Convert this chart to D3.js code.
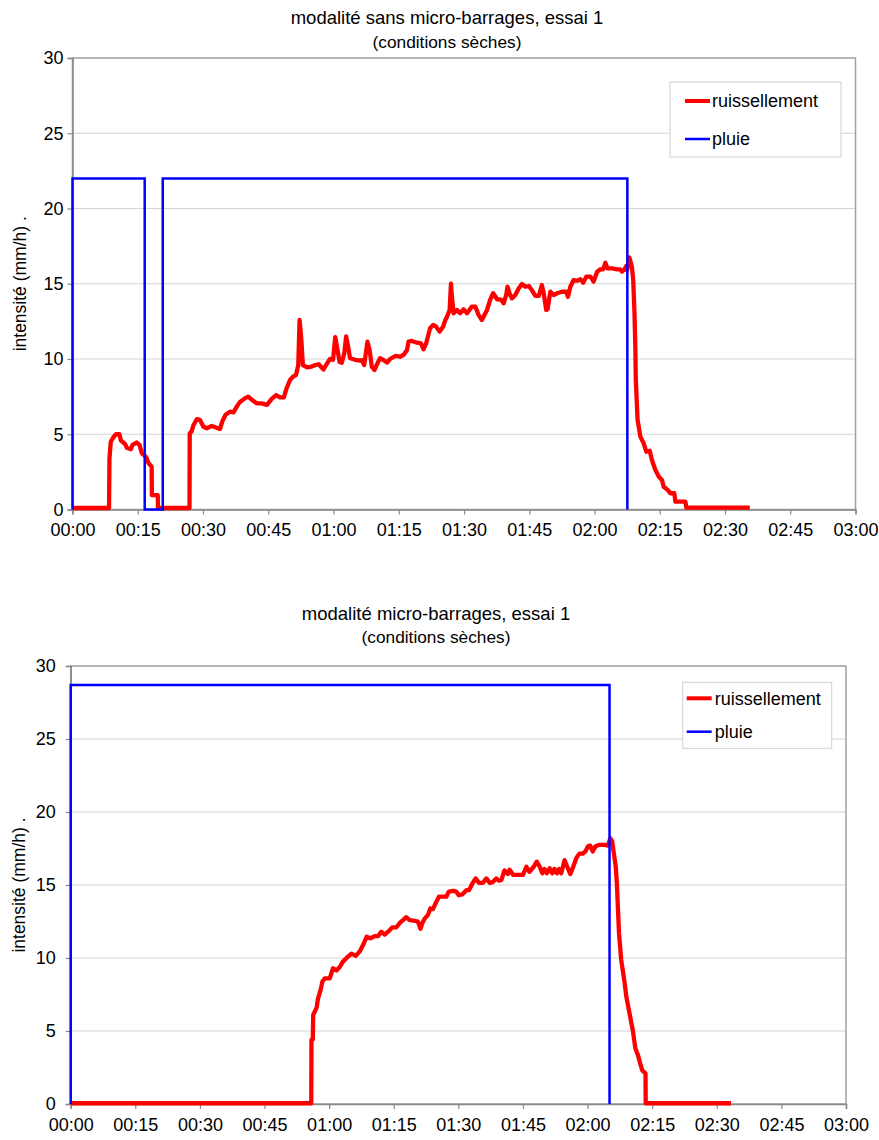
<!DOCTYPE html>
<html>
<head>
<meta charset="utf-8">
<script src="https://cdn.jsdelivr.net/npm/d3@7"></script>
<style>
  body { margin: 0; background: #fff; }
  text { font-family: "Liberation Sans", Arial, sans-serif; fill: #000; }
</style>
</head>
<body>
<div id="chart"></div>
<script>
var svgWidth = 879;
var svgHeight = 1140;

// x axis: minutes since start, labelled hh:mm
var timeTicks = [0, 15, 30, 45, 60, 75, 90, 105, 120, 135, 150, 165, 180];
var timeLabels = ["00:00", "00:15", "00:30", "00:45", "01:00", "01:15", "01:30",
                  "01:45", "02:00", "02:15", "02:30", "02:45", "03:00"];
var yTicks = [0, 5, 10, 15, 20, 25, 30];
var seriesNames = ["ruissellement", "pluie"];

// essai 1, sans micro-barrages : [minutes, mm/h]
var runoff1 = [
  [0, 0.1], [8.4, 0.1], [8.5, 3.4], [8.8, 4.5], [9.4, 4.8], [10.0, 5.0], [10.8, 5.0],
  [11.1, 4.6], [12.1, 4.35], [12.5, 4.1], [13.4, 4.0], [13.8, 4.3], [14.8, 4.45],
  [15.4, 4.3], [15.9, 3.75], [16.9, 3.5], [17.45, 3.1], [18.2, 2.85], [18.25, 0.95],
  [19.6, 0.95], [19.65, 0.1], [26.9, 0.1], [26.95, 5.05], [27.4, 5.2], [27.8, 5.6],
  [28.6, 6.0], [29.3, 5.95], [30.1, 5.5], [30.9, 5.4], [32.0, 5.55], [33.9, 5.35],
  [34.5, 5.9], [35.2, 6.3], [36.2, 6.5], [37.0, 6.45], [37.8, 6.85], [38.5, 7.15],
  [39.7, 7.4], [40.4, 7.5], [41.2, 7.3], [42.4, 7.05], [43.5, 7.05], [44.7, 6.95],
  [45.8, 7.35], [46.8, 7.6], [47.7, 7.45], [48.6, 7.45], [49.2, 8.05], [50.0, 8.6],
  [50.8, 8.85], [51.4, 8.95], [51.9, 9.6], [52.2, 12.6], [52.6, 11.3], [52.96, 9.6],
  [53.9, 9.45], [55.0, 9.5], [55.8, 9.6], [56.6, 9.65], [57.7, 9.3], [58.5, 9.7],
  [59.2, 10.0], [59.9, 9.95], [60.4, 11.45], [60.8, 10.8], [61.4, 9.8], [61.9, 9.75],
  [62.5, 10.4], [62.9, 11.5], [63.5, 10.6], [63.8, 10.05], [65.0, 9.95], [66.1, 9.9],
  [66.5, 9.93], [67.06, 9.6], [67.8, 11.15], [68.3, 10.6], [68.8, 9.49], [69.4, 9.27],
  [70.1, 9.71], [70.7, 10.05], [71.5, 9.93], [72.3, 9.76], [73.0, 10.0], [74.2, 10.2],
  [75.3, 10.15], [76.1, 10.27], [76.9, 10.6], [77.25, 11.15], [78.0, 11.2], [79.2, 11.08],
  [80.1, 11.04], [80.7, 10.64], [81.3, 11.04], [82.2, 12.04], [82.9, 12.26], [83.6, 12.15],
  [84.4, 11.82], [85.2, 12.15], [85.7, 12.59], [86.1, 12.8], [86.7, 13.26], [87.0, 15.0],
  [87.2, 14.2], [87.6, 13.04], [88.4, 13.26], [89.1, 13.04], [89.9, 13.3], [90.7, 13.04],
  [91.8, 13.48], [92.6, 13.48], [93.35, 12.93], [94.1, 12.59], [94.9, 13.04], [95.3, 13.26],
  [96.0, 13.92], [96.7, 14.37], [97.6, 13.97], [98.5, 13.95], [99.1, 13.7], [99.7, 14.25],
  [100.0, 14.8], [100.5, 14.35], [101.0, 14.03], [101.8, 14.25], [102.6, 14.7], [103.3, 14.98],
  [104.1, 14.8], [104.9, 14.85], [105.6, 14.58], [106.4, 14.19], [107.2, 14.19], [107.9, 14.92],
  [108.3, 14.4], [108.9, 13.26], [109.2, 13.3], [109.85, 14.47], [110.6, 14.25], [111.4, 14.37],
  [112.5, 14.47], [113.5, 14.47], [113.9, 14.14], [114.45, 14.8], [115.2, 15.25], [116.0, 15.2],
  [116.75, 15.3], [117.4, 15.07], [118.1, 15.47], [119.05, 15.47], [119.8, 15.14], [120.6, 15.8],
  [121.35, 15.96], [122.0, 15.96], [122.5, 16.4], [123.0, 16.02], [124.0, 16.02], [125.2, 15.96],
  [125.95, 15.96], [126.3, 15.8], [126.9, 15.96], [127.3, 16.18], [127.5, 15.9], [128.0, 16.75],
  [128.6, 16.13], [128.9, 15.25], [129.2, 13.0], [129.4, 10.6], [129.5, 8.6], [129.9, 5.95],
  [130.55, 4.84], [131.3, 4.4], [131.9, 3.84], [132.7, 3.9], [133.2, 3.29], [134.0, 2.62],
  [134.8, 2.18], [135.5, 1.96], [135.9, 1.51], [136.8, 1.3], [137.45, 1.08], [138.35, 1.08],
  [138.6, 0.52], [140.9, 0.52], [141.1, 0.12], [155.7, 0.12]
];
var rain1 = [
  [0, 0], [0, 22], [16.6, 22], [16.6, 0], [20.75, 0], [20.75, 22], [127.55, 22], [127.55, 0]
];

// essai 1, micro-barrages
var runoff2 = [
  [0, 0.05], [55.85, 0.05], [55.9, 4.4], [56.2, 4.4], [56.3, 6.1], [57.1, 6.6], [57.4, 7.2],
  [58.0, 7.8], [58.45, 8.4], [59.0, 8.6], [60.15, 8.6], [60.9, 9.3], [61.7, 9.15], [62.5, 9.4],
  [63.2, 9.75], [64.4, 10.1], [65.2, 10.3], [66.2, 10.15], [67.1, 10.45], [67.9, 10.9],
  [68.7, 11.45], [69.6, 11.35], [70.6, 11.5], [71.35, 11.5], [72.1, 11.8], [72.9, 11.6],
  [73.7, 11.8], [74.7, 12.1], [75.6, 12.1], [76.4, 12.4], [77.15, 12.6], [77.9, 12.8],
  [78.7, 12.6], [79.9, 12.55], [80.6, 12.5], [81.2, 12.0], [81.65, 12.4], [82.2, 12.7],
  [82.95, 12.95], [83.5, 13.4], [84.1, 13.35], [84.9, 13.85], [85.5, 14.2], [86.4, 14.2],
  [87.2, 14.2], [87.8, 14.55], [88.75, 14.6], [89.5, 14.55], [90.1, 14.3], [90.9, 14.35],
  [91.9, 14.65], [92.5, 14.65], [93.25, 15.1], [94.0, 15.45], [94.8, 15.15], [95.7, 15.15],
  [96.5, 15.45], [97.3, 15.15], [98.0, 15.2], [98.8, 15.45], [99.4, 15.3], [100.0, 15.35],
  [100.7, 16.0], [101.5, 15.75], [101.9, 16.05], [102.7, 15.7], [103.8, 15.7], [105.0, 15.7],
  [105.8, 16.25], [106.5, 15.9], [107.5, 16.25], [108.2, 16.6], [108.9, 16.25], [109.5, 15.8],
  [110.0, 16.1], [110.55, 15.8], [111.2, 16.15], [111.8, 15.8], [112.3, 16.1], [112.9, 15.8],
  [113.4, 16.1], [113.9, 15.8], [114.65, 16.7], [115.2, 16.3], [116.0, 15.75], [116.6, 16.2],
  [117.4, 16.85], [118.1, 17.15], [118.9, 17.15], [119.5, 17.3], [120.1, 17.65], [120.6, 17.7],
  [121.2, 17.3], [121.85, 17.65], [122.8, 17.75], [123.9, 17.75], [124.7, 17.7], [125.3, 18.2],
  [125.7, 18.0], [126.55, 16.25], [126.8, 15.1], [127.3, 11.7], [127.8, 9.9], [128.6, 8.3],
  [129.0, 7.35], [129.75, 6.2], [130.5, 5.05], [131.1, 3.8], [131.7, 3.35], [132.2, 2.8],
  [132.7, 2.3], [133.45, 2.1], [133.5, 0.05], [153.3, 0.05]
];
var rain2 = [
  [0, 0], [0, 28.7], [125.1, 28.7], [125.1, 0]
];

var charts = [
  {
    title: "modalité sans micro-barrages, essai 1",
    subtitle: "(conditions sèches)",
    runoff: runoff1, rain: rain1,
    plot: { left: 72.5, right: 855.5, top: 58, bottom: 509.5 },
    titleX: 447, titleY: 24, subY: 48, labelGap: 9, yLabelX: 26,
    legend: { x: 670, y: 82, w: 171, h: 75, row1: 101, row2: 139, lineX: 15, textX: 42 }
  },
  {
    title: "modalité micro-barrages, essai 1",
    subtitle: "(conditions sèches)",
    runoff: runoff2, rain: rain2,
    plot: { left: 70.7, right: 846, top: 666, bottom: 1104 },
    titleX: 436, titleY: 620, subY: 643, labelGap: 15, yLabelX: 25,
    legend: { x: 682.7, y: 682.3, w: 149, h: 66, row1: 698.3, row2: 731.7, lineX: 4, textX: 32 }
  }
];

var svg = d3.select("#chart")
  .append("svg")
  .attr("width", svgWidth)
  .attr("height", svgHeight);

charts.forEach(function(c) {
  var p = c.plot;
  var x = d3.scaleLinear().domain([0, 180]).range([p.left, p.right]);
  var y = d3.scaleLinear().domain([0, 30]).range([p.bottom, p.top]);

  var g = svg.append("g");

  // titles
  g.append("text")
    .attr("x", c.titleX).attr("y", c.titleY)
    .attr("text-anchor", "middle")
    .style("font-size", "18.5px")
    .text(c.title);
  g.append("text")
    .attr("x", c.titleX).attr("y", c.subY)
    .attr("text-anchor", "middle")
    .style("font-size", "17.3px")
    .text(c.subtitle);

  // gridlines
  g.selectAll(".grid")
    .data(yTicks.filter(d => d > 0 && d < 30))
    .enter()
    .append("line")
    .attr("x1", p.left).attr("x2", p.right)
    .attr("y1", d => y(d)).attr("y2", d => y(d))
    .attr("stroke", "#d4d4d4")
    .attr("stroke-width", 1.2);

  // plot frame
  g.append("rect")
    .attr("x", p.left).attr("y", p.top)
    .attr("width", p.right - p.left).attr("height", p.bottom - p.top)
    .attr("fill", "none")
    .attr("stroke", "#a0a0a0")
    .attr("stroke-width", 1.5);

  // axes
  var bottomAxis = d3.axisBottom(x)
    .tickValues(timeTicks)
    .tickFormat((d, i) => timeLabels[i])
    .tickSize(5)
    .tickPadding(9);
  var leftAxis = d3.axisLeft(y)
    .tickValues(yTicks)
    .tickSize(5)
    .tickPadding(c.labelGap - 5);

  var xg = g.append("g")
    .attr("transform", `translate(0, ${p.bottom})`)
    .call(bottomAxis);
  var yg = g.append("g")
    .attr("transform", `translate(${p.left}, 0)`)
    .call(leftAxis);

  [xg, yg].forEach(function(a) {
    a.select(".domain").attr("stroke", "#888").attr("stroke-width", 1.5);
    a.selectAll(".tick line").attr("stroke", "#888").attr("stroke-width", 1.2);
    a.selectAll(".tick text")
      .style("font-family", "'Liberation Sans', Arial, sans-serif")
      .style("font-size", "18px")
      .attr("fill", "#000");
  });

  // y axis label
  g.append("text")
    .attr("transform", `translate(${c.yLabelX}, ${(p.top + p.bottom) / 2}) rotate(-90)`)
    .attr("text-anchor", "middle")
    .style("font-size", "17.5px")
    .text("intensité (mm/h) .");

  var line = d3.line()
    .x(d => x(d[0]))
    .y(d => y(d[1]));

  g.append("path")
    .datum(c.runoff)
    .attr("d", line)
    .attr("fill", "none")
    .attr("stroke", "#ff0000")
    .attr("stroke-width", 4.3)
    .attr("stroke-linejoin", "round");

  g.append("path")
    .datum(c.rain)
    .attr("d", line)
    .attr("fill", "none")
    .attr("stroke", "#0000ff")
    .attr("stroke-width", 2.5);

  // legend
  var L = c.legend;
  var lg = g.append("g");
  lg.append("rect")
    .attr("x", L.x).attr("y", L.y)
    .attr("width", L.w).attr("height", L.h)
    .attr("fill", "#fff")
    .attr("stroke", "#d0d0d0")
    .attr("stroke-width", 1);
  var rows = [L.row1, L.row2];
  var colors = ["#ff0000", "#0000ff"];
  var widths = [4, 2.5];
  seriesNames.forEach(function(name, i) {
    lg.append("line")
      .attr("x1", L.x + L.lineX).attr("x2", L.x + L.lineX + 25)
      .attr("y1", rows[i]).attr("y2", rows[i])
      .attr("stroke", colors[i])
      .attr("stroke-width", widths[i]);
    lg.append("text")
      .attr("x", L.x + L.textX).attr("y", rows[i])
      .attr("dy", "0.35em")
      .style("font-size", "18px")
      .text(name);
  });
});
</script>
</body>
</html>
